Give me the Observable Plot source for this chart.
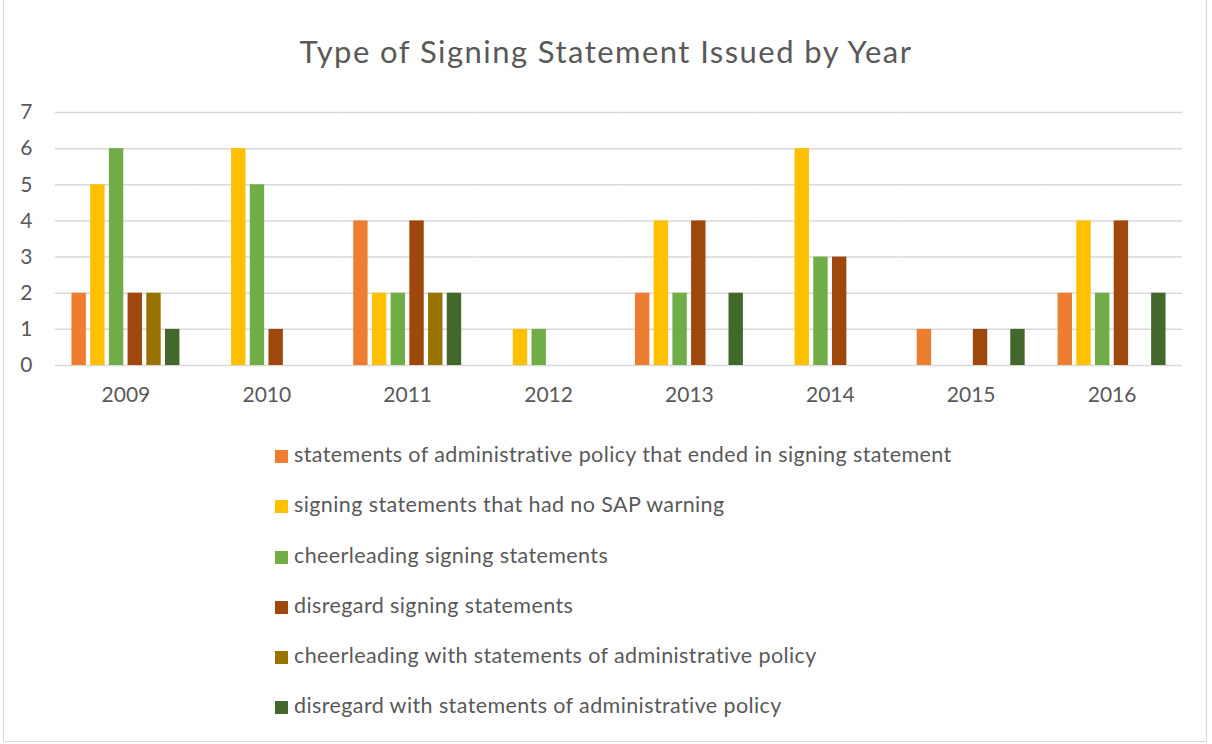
<!DOCTYPE html>
<html>
<head>
<meta charset="utf-8">
<script src="https://cdn.jsdelivr.net/npm/d3@7"></script>
<script src="https://cdn.jsdelivr.net/npm/@observablehq/plot@0.6"></script>
<style>
  html, body { margin: 0; padding: 0; background: #fff; }
  #wrap { position: relative; width: 1212px; height: 744px; overflow: hidden; font-family: Lato, "Open Sans", sans-serif; color: #595959; }
  #frame { position: absolute; left: 3px; top: -2px; width: 1204px; height: 744px; border: 1px solid #d9d9d9; box-sizing: border-box; }
  #title { position: absolute; left: 0; width: 1212px; top: 32px; text-align: center; font-size: 31px; font-weight: 400; letter-spacing: 1.45px; color: #595959; }
  #chart { position: absolute; left: 0; top: 90px; }
  #legend { position: absolute; left: 275px; top: 441px; }
  .item { height: 50.3px; display: flex; align-items: flex-start; font-size: 21.5px; letter-spacing: 0.4px; color: #595959; }
  .sw { width: 13px; height: 13px; margin-right: 6px; margin-top: 9px; flex: none; }
</style>
</head>
<body>
<div id="wrap">
  <div id="frame"></div>
  <div id="title">Type of Signing Statement Issued by Year</div>
  <div id="chart"></div>
  <div id="legend"></div>
</div>
<script>
const years = ["2009", "2010", "2011", "2012", "2013", "2014", "2015", "2016"];
const seriesNames = [
  "statements of administrative policy that ended in signing statement",
  "signing statements that had no SAP warning",
  "cheerleading signing statements",
  "disregard signing statements",
  "cheerleading with statements of administrative policy",
  "disregard with statements of administrative policy"
];
const colors = ["#ED7D31", "#FFC000", "#70AD47", "#9E480E", "#997300", "#43682B"];
const sapEnded     = [2, 0, 4, 0, 2, 0, 1, 2];
const noSapWarning = [5, 6, 2, 1, 4, 6, 0, 4];
const cheerleading = [6, 5, 2, 1, 2, 3, 0, 2];
const disregard    = [2, 1, 4, 0, 4, 3, 1, 4];
const cheerWithSap = [2, 0, 2, 0, 0, 0, 0, 0];
const disregardSap = [1, 0, 2, 0, 2, 0, 1, 2];
const seriesValues = [sapEnded, noSapWarning, cheerleading, disregard, cheerWithSap, disregardSap];
const yTicks = [0, 1, 2, 3, 4, 5, 6, 7];

const data = [];
years.forEach((yr, i) => {
  seriesNames.forEach((s, j) => {
    data.push({year: yr, series: s, value: seriesValues[j][i]});
  });
});

const chart = Plot.plot({
  width: 1212,
  height: 320,
  marginLeft: 55,
  marginRight: 30,
  marginTop: 22,
  marginBottom: 45,
  style: {fontFamily: "Lato, 'Open Sans', sans-serif", fontSize: "21px", color: "#595959", background: "transparent"},
  fx: {domain: years, padding: 0, round: false, label: null, axis: "bottom", tickSize: 0, tickPadding: 22},
  x: {domain: seriesNames, paddingInner: 0.23, paddingOuter: 0.88, round: false, axis: null},
  y: {domain: [0, 7], ticks: yTicks, label: null, tickSize: 0, tickPadding: 23, tickFormat: d => d},
  color: {domain: seriesNames, range: colors},
  marks: [
    Plot.gridY(yTicks, {stroke: "#d9d9d9", strokeOpacity: 1, strokeWidth: 1.5}),
    Plot.barY(data, {fx: "year", x: "series", y: "value", fill: "series"})
  ]
});
document.getElementById("chart").appendChild(chart);

const legend = document.getElementById("legend");
seriesNames.forEach((s, j) => {
  const row = document.createElement("div");
  row.className = "item";
  const sw = document.createElement("span");
  sw.className = "sw";
  sw.style.background = colors[j];
  const tx = document.createElement("span");
  tx.textContent = s;
  row.appendChild(sw);
  row.appendChild(tx);
  legend.appendChild(row);
});
</script>
</body>
</html>
